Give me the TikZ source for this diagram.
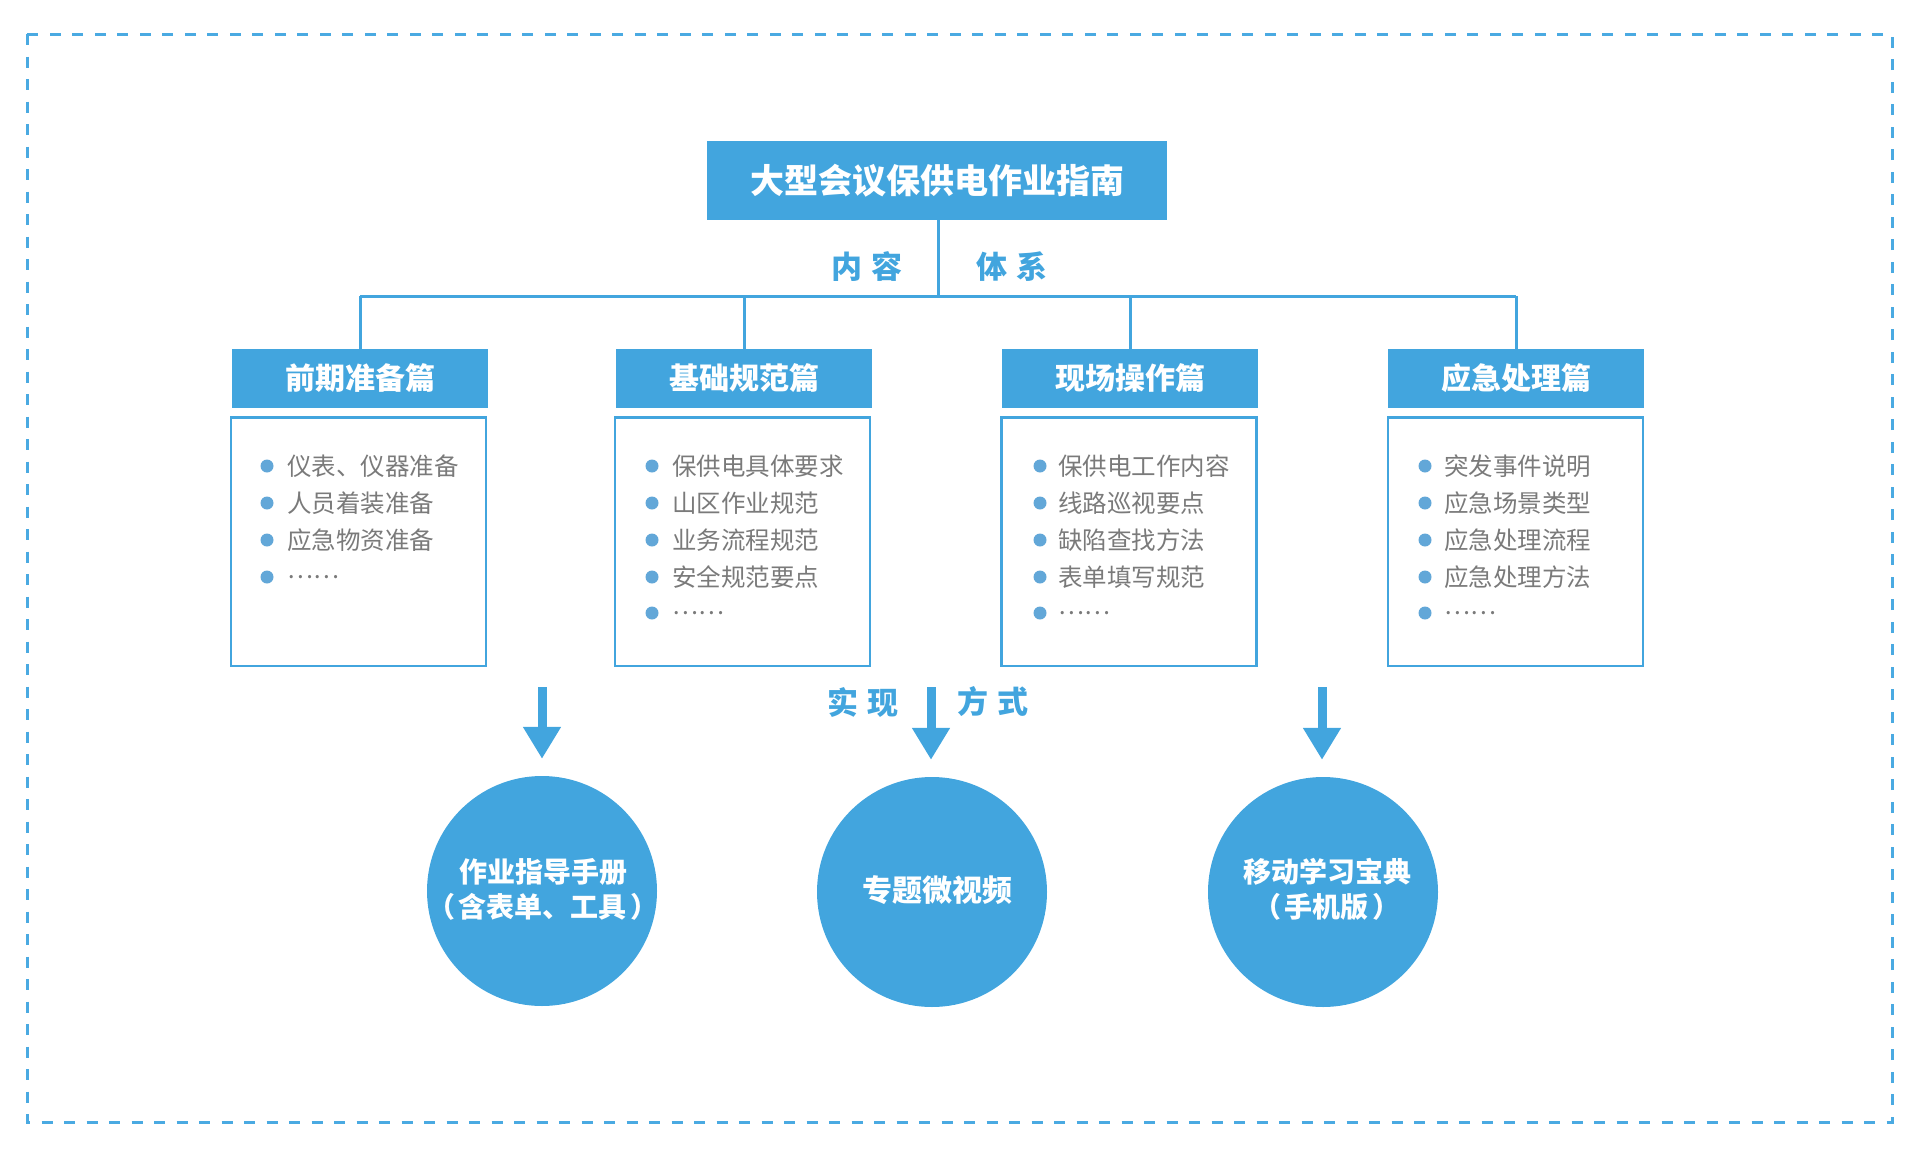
\documentclass[tikz,border=0pt]{standalone}
\usepackage{fontspec}
\newfontfamily\cjk{Noto Sans CJK SC}
\usetikzlibrary{arrows.meta}
\definecolor{mainblue}{RGB}{66,165,222}
\definecolor{dotblue}{RGB}{98,167,216}
\definecolor{txtgray}{RGB}{122,122,122}
\definecolor{borderblue}{RGB}{74,170,226}
\tikzset{
  titlebox/.style={fill=mainblue, minimum width=460pt, minimum height=79pt, inner sep=0pt, text=white, font=\cjk\bfseries\fontsize{34}{40}\selectfont},
  headbox/.style={fill=mainblue, minimum width=256pt, minimum height=59pt, inner sep=0pt, text=white, font=\cjk\bfseries\fontsize{30}{34}\selectfont},
  contentbox/.style={draw=mainblue, line width=2.5pt, minimum width=255pt, minimum height=248.5pt, inner sep=0pt},
  itemtext/.style={anchor=west, text=txtgray, font=\cjk\fontsize{24.5}{28}\selectfont, inner sep=0pt},
  bulletdot/.style={circle, fill=dotblue, minimum size=13pt, inner sep=0pt},
  bluelabel/.style={text=mainblue, inner sep=0pt, font=\cjk\bfseries\fontsize{31}{36}\selectfont},
  conn/.style={draw=mainblue, line width=3pt},
  downarrow/.style={draw=mainblue, line width=9pt, -{Triangle[width=36pt,length=32pt]}, shorten >=17pt},
  circnode/.style={circle, fill=mainblue, minimum size=230pt, inner sep=0pt},
  circtext/.style={text=white, align=center, inner sep=0pt, font=\cjk\bfseries\fontsize{28}{35}\selectfont},
}
\begin{document}
\begin{tikzpicture}[x=1pt, y=-1pt]
\useasboundingbox (0,0) rectangle (1920,1162);
% dashed frame
\draw[draw=borderblue, line width=3pt, dash pattern=on 11pt off 11.5pt] (27,34) rectangle (1892,1122);

% title
\node[titlebox] (title) at (937,180.5) {大型会议保供电作业指南};

% headers
\node[headbox] (h1) at (360,378.5) {前期准备篇};
\node[headbox] (h2) at (744,378.5) {基础规范篇};
\node[headbox] (h3) at (1130,378.5) {现场操作篇};
\node[headbox] (h4) at (1516,378.5) {应急处理篇};

% tree connectors
\coordinate (jn) at (938,296);
\draw[conn] (title.south -| jn) -- (jn);
\draw[conn] (h1.north |- jn) -- (h4.north |- jn);
\draw[conn] (h1.north) -- (h1.north |- jn);
\draw[conn] (h2.north) -- (h2.north |- jn);
\draw[conn] (h3.north) -- (h3.north |- jn);
\draw[conn] (h4.north) -- (h4.north |- jn);

\node[bluelabel] (lab1) at (867,267) {内\hspace{9pt}容};
\node[bluelabel] (lab2) at (1012,267) {体\hspace{9pt}系};

% content boxes
\node[contentbox] (b1) at (358.5,541.5) {};
\node[contentbox] (b2) at (742.5,541.5) {};
\node[contentbox] (b3) at (1129,541.5) {};
\node[contentbox] (b4) at (1515.5,541.5) {};

% box 1 items
\node[bulletdot] (d11) at (267,466) {};
\node[itemtext] (t11) at (287,466) {仪表、仪器准备};
\node[bulletdot] (d12) at (267,503) {};
\node[itemtext] (t12) at (287,503) {人员着装准备};
\node[bulletdot] (d13) at (267,540) {};
\node[itemtext] (t13) at (287,540) {应急物资准备};
\node[bulletdot] (d14) at (267,577) {};
\node[itemtext] (t14) at (287,577) {……};

% box 2 items
\node[bulletdot] (d21) at (652,466) {};
\node[itemtext] (t21) at (672,466) {保供电具体要求};
\node[bulletdot] (d22) at (652,503) {};
\node[itemtext] (t22) at (672,503) {山区作业规范};
\node[bulletdot] (d23) at (652,540) {};
\node[itemtext] (t23) at (672,540) {业务流程规范};
\node[bulletdot] (d24) at (652,577) {};
\node[itemtext] (t24) at (672,577) {安全规范要点};
\node[bulletdot] (d25) at (652,613) {};
\node[itemtext] (t25) at (672,613) {……};

% box 3 items
\node[bulletdot] (d31) at (1040,466) {};
\node[itemtext] (t31) at (1058,466) {保供电工作内容};
\node[bulletdot] (d32) at (1040,503) {};
\node[itemtext] (t32) at (1058,503) {线路巡视要点};
\node[bulletdot] (d33) at (1040,540) {};
\node[itemtext] (t33) at (1058,540) {缺陷查找方法};
\node[bulletdot] (d34) at (1040,577) {};
\node[itemtext] (t34) at (1058,577) {表单填写规范};
\node[bulletdot] (d35) at (1040,613) {};
\node[itemtext] (t35) at (1058,613) {……};

% box 4 items
\node[bulletdot] (d41) at (1425,466) {};
\node[itemtext] (t41) at (1444,466) {突发事件说明};
\node[bulletdot] (d42) at (1425,503) {};
\node[itemtext] (t42) at (1444,503) {应急场景类型};
\node[bulletdot] (d43) at (1425,540) {};
\node[itemtext] (t43) at (1444,540) {应急处理流程};
\node[bulletdot] (d44) at (1425,577) {};
\node[itemtext] (t44) at (1444,577) {应急处理方法};
\node[bulletdot] (d45) at (1425,613) {};
\node[itemtext] (t45) at (1444,613) {……};

% circles
\node[circnode] (c1) at (542,891) {};
\node[circnode] (c2) at (932,892) {};
\node[circnode] (c3) at (1323,892) {};
\node[circtext] (ct1) at (543,889) {作业指导手册\\（\hspace{4pt}含表单、工具\hspace{4pt}）};
\node[circtext, font=\cjk\bfseries\fontsize{30}{35}\selectfont] (ct2) at (937,890) {专题微视频};
\node[circtext] (ct3) at (1327,889) {移动学习宝典\\（\hspace{4pt}手机版\hspace{4pt}）};

% arrows
\coordinate (a1) at (542,687);
\coordinate (a2) at (931,687);
\coordinate (a3) at (1322,687);
\draw[downarrow] (a1) -- (a1 |- c1.north);
\draw[downarrow] (a2) -- (a2 |- c2.north);
\draw[downarrow] (a3) -- (a3 |- c3.north);

\node[bluelabel] (lab3) at (863,702) {实\hspace{9pt}现};
\node[bluelabel] (lab4) at (993,702) {方\hspace{9pt}式};
\end{tikzpicture}
\end{document}
